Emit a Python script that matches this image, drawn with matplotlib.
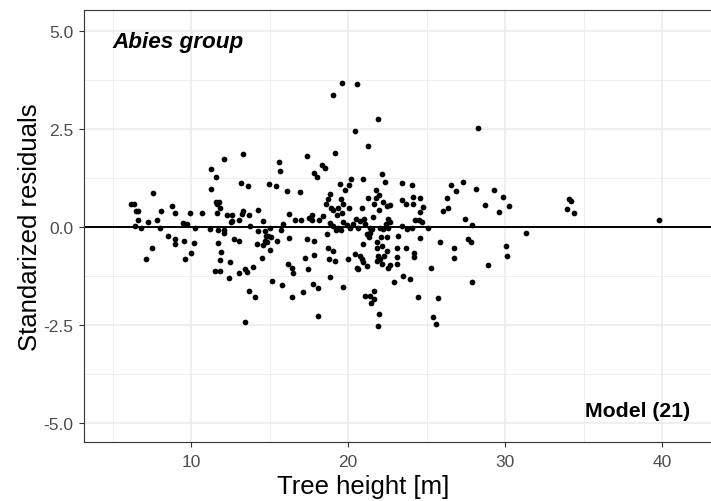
import matplotlib
matplotlib.use("Agg")
import matplotlib.pyplot as plt
from matplotlib.ticker import MultipleLocator, FixedLocator

plt.rcParams['font.family'] = ['Liberation Sans', 'DejaVu Sans']

# tree height [m]
height = [
    19.6, 20.6, 19.04, 21.9, 20.46, 21.27, 28.3, 17.4, 19.2, 13.3, 12.1,
    11.27, 11.57, 13.15, 7.58, 11.27, 6.18, 6.39, 11.59, 11.76, 11.68, 11.83,
    6.48, 6.6, 8.11, 8.79, 8.96, 9.94, 10.7, 11.66, 12.27, 12.59, 6.6, 7.24,
    7.83, 12.63, 13.04, 9.51, 9.76, 6.43, 6.82, 8.03, 10.27, 11.21, 11.72,
    12.12, 12.1, 8.54, 8.98, 8.98, 9.55, 10.19, 11.7, 12.74, 13.04, 7.52,
    7.13, 9.6, 10.02, 11.93, 11.85, 12.48, 11.53, 11.87, 12.42, 13.04,
    15.62, 15.69, 17.83, 18.04, 18.36, 18.55, 13.65, 14.99, 15.41, 16.1,
    16.92, 19.51, 19.81, 20.06, 20.19, 20.97, 22.17, 22.36, 21.76, 21.96,
    21.29, 21.8, 22.25, 21.68, 21.99, 22.46, 18.83, 18.75, 18.6, 18.92,
    19.03, 19.34, 19.54, 19.7, 19.64, 19.28, 20.08, 20.87, 13.33, 13.23,
    13.69, 14.29, 12.55, 14.6, 16.24, 16.6, 17.03, 17.5, 17.73, 18.15,
    18.43, 15.84, 15.73, 13.76, 14.27, 14.71, 15.03, 14.78, 14.92, 14.69,
    15.08,
    17.68, 18.85, 19.06, 19.24, 19.38, 19.55, 19.7, 19.92, 20.13, 20.34,
    20.51, 20.76, 20.66, 21.04, 21.08, 21.4, 21.61, 22.04, 22.25, 22.42,
    22.57,
    16.24, 17.37, 17.8, 18.64, 17.26, 17.85, 18.71, 19.06, 18.81, 19.17,
    20.02, 20.45, 20.76, 20.59, 20.97, 21.19, 20.87, 20.66, 21.36, 21.4,
    21.5, 22.08, 21.83, 22.15, 22.29, 21.93, 21.83, 22.04, 22.15, 22.57,
    16.2, 16.41, 16.52, 17.47, 18.85, 15.78, 17.15, 17.75, 18.07, 19.7,
    16.41, 21.08, 21.4, 21.66,
    14.22, 14.6, 14.82, 15.03, 15.46, 14.52, 13.44, 13.59, 13.97, 15.14,
    13.69, 14.08, 13.44, 18.11, 20.97, 21.66, 21.44, 22.0, 21.89, 21.83,
    22.46, 21.19,
    23.42, 24.06, 23.42, 23.68, 24.16, 24.59, 24.16, 22.68, 24.8, 24.59,
    22.57, 22.68, 23.42, 23.74, 24.06, 24.27, 24.52, 24.73, 25.11, 26.54,
    26.88, 27.34, 28.13, 29.3, 29.9, 30.27, 28.73, 29.62, 26.29, 26.03,
    26.39, 27.45, 27.88, 31.32, 23.2, 22.5, 24.59, 25.86, 26.75, 27.66,
    27.83, 30.06, 23.1, 23.68,
    23.1, 22.68, 23.1, 24.22, 24.22, 26.75, 25.29, 28.94, 30.15, 22.95,
    23.52, 23.95, 27.88, 24.48, 25.73, 25.43, 25.59,
    34.1, 34.18, 33.93, 34.41, 39.81,
]

# standardized residuals
resid = [
    3.69, 3.65, 3.38, 2.77, 2.46, 2.07, 2.53, 1.81, 1.90, 1.86, 1.73,
    1.48, 1.28, 1.13, 0.86, 0.97, 0.59, 0.59, 0.65, 0.63, 0.59, 0.50,
    0.40, 0.41, 0.40, 0.54, 0.35, 0.36, 0.36, 0.36, 0.30, 0.30, 0.18, 0.13,
    0.18, 0.17, 0.19, 0.10, 0.08, 0.03, -0.03, -0.01, -0.01, -0.05, -0.08,
    -0.08, -0.16, -0.23, -0.31, -0.42, -0.36, -0.41, -0.41, -0.31, -0.36, -0.53,
    -0.82, -0.82, -0.67, -0.63, -0.85, -0.90, -1.13, -1.13, -1.29, -1.16,
    1.67, 1.43, 1.39, 1.29, 1.59, 1.52, 1.04, 1.10, 1.04, 0.93,
    0.91, 1.10, 0.96, 1.07, 1.23, 1.22, 1.35, 1.16, 0.96, 0.83,
    0.75, 0.74, 0.63, 0.58, 0.43, 0.54, 0.84, 0.71, 0.60, 0.48,
    0.43, 0.50, 0.71, 0.60, 0.36, 0.31, 0.50, 0.48, 0.40, 0.33,
    0.32, 0.44, 0.12, 0.17, 0.34, 0.18, 0.19, 0.24, 0.31, 0.18,
    0.28, 0.08, -0.07, 0.02, -0.09, -0.09, -0.03, -0.22, -0.22, -0.35,
    -0.24,
    0.18, 0.10, 0.03, -0.08, -0.03, -0.08, 0.12, 0.06, -0.01, 0.09,
    0.22, 0.16, -0.01, 0.20, 0.08, -0.01, 0.25, -0.01, -0.05, 0.08,
    -0.01,
    -0.28, -0.31, -0.36, -0.18, -0.79, -0.71, -0.54, -0.60, -0.80, -0.86,
    -0.80, -0.69, -0.73, -1.03, -0.90, -0.99, -0.82, -1.07, -0.25, -0.14,
    -0.05, -0.26, -0.52, -0.49, -0.73, -0.73, -0.86, -0.82, -0.94, -1.03,
    -0.94, -1.03, -1.16, -1.07, -1.26, -1.48, -1.65, -1.44, -1.54, -1.52,
    -1.78, -1.75, -1.75, -1.63,
    -0.43, -0.45, -0.39, -0.58, -0.35, -0.79, -1.07, -1.14, -1.01, -1.38,
    -1.63, -1.79, -2.41, -2.26, -0.43, -1.82, -1.94, -2.22, -2.52, -0.39,
    -0.60, -0.17,
    1.12, 1.07, 0.70, 0.59, 0.76, 0.74, 0.60, 0.57, 0.52, 0.39,
    0.20, 0.14, 0.02, -0.05, -0.03, 0.18, 0.19, 0.12, -0.03, 1.07,
    0.93, 1.14, 0.97, 0.95, 0.78, 0.53, 0.56, 0.38, 0.74, 0.42,
    0.48, 0.22, 0.05, -0.15, -0.22, -0.26, -0.28, -0.37, -0.52, -0.31,
    -0.39, -0.49, -0.52, -0.52,
    -0.77, -0.97, -0.94, -0.66, -0.77, -0.79, -1.03, -0.97, -0.73, -1.41,
    -1.24, -1.31, -1.39, -1.77, -1.81, -2.29, -2.47,
    0.73, 0.68, 0.46, 0.36, 0.19,
]

y_ticks = [-5.0, -2.5, 0.0, 2.5, 5.0]
y_tick_labels = ['-5.0', '-2.5', '0.0', '2.5', '5.0']
x_ticks = [10, 20, 30, 40]

fig = plt.figure(figsize=(7.11, 5.02), dpi=100)
ax = fig.add_axes([84 / 711, 59 / 502, 640 / 711, 432 / 502])

grid_col = '#EBEBEB'
ax.set_xlim(3.18, 43.95)
ax.set_ylim(-5.48, 5.54)

ax.xaxis.set_major_locator(FixedLocator(x_ticks))
ax.xaxis.set_minor_locator(MultipleLocator(5))
ax.set_yticks(y_ticks)
ax.set_yticklabels(y_tick_labels)
ax.yaxis.set_minor_locator(MultipleLocator(1.25))

ax.grid(which='major', color=grid_col, linewidth=1.1, zorder=0)
ax.grid(which='minor', color=grid_col, linewidth=0.55, zorder=0)
ax.set_axisbelow(True)

ax.axhline(0, color='black', linewidth=1.4, zorder=2)
ax.scatter(height, resid, s=17, color='black', linewidths=0, zorder=3)

for side in ['left', 'bottom', 'top', 'right']:
    ax.spines[side].set_color('#333333')
    ax.spines[side].set_linewidth(0.8)

ax.tick_params(which='major', length=3.5, width=0.8, color='#333333',
               labelcolor='#4D4D4D', labelsize=12.5, pad=4)
ax.tick_params(axis='x', which='major', pad=5.5)
ax.tick_params(which='minor', length=0)

ax.set_xlabel('Tree height [m]', fontsize=18.5)
ax.set_ylabel('Standarized residuals', fontsize=18.5)
ax.xaxis.set_label_coords(0.436, -0.073)
ax.yaxis.set_label_coords(-0.066, 0.5)

ax.text(5.0, 4.74, 'Abies group', fontsize=16.2, fontweight='bold',
        fontstyle='italic', ha='left', va='center')
ax.text(41.8, -4.67, 'Model (21)', fontsize=15.3, fontweight='bold',
        ha='right', va='center')

fig.savefig('out.png', dpi=100)
